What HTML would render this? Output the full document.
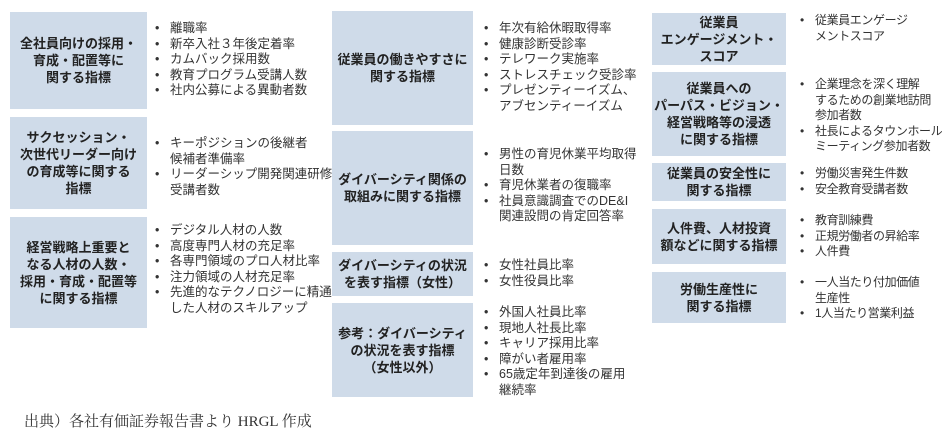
<!DOCTYPE html>
<html><head><meta charset="utf-8"><style>
body{margin:0;width:944px;height:444px;background:#fff;position:relative;overflow:hidden;font-family:"Liberation Sans","Noto Sans CJK JP",sans-serif;}
.b{position:absolute;background:#cfdbe9;display:flex;align-items:center;justify-content:center;text-align:center;font-weight:bold;font-size:13px;line-height:17px;color:#222;}
.l{position:absolute;margin:0;padding:0;list-style:none;font-size:12.5px;line-height:15.6px;color:#333;white-space:nowrap;}
.l li{position:relative;padding-left:15px;}
.l li:before{content:"•";position:absolute;left:0;top:0;}
.s{font-size:12px;letter-spacing:-0.4px;}
.f{position:absolute;left:24px;top:410px;font-family:"Liberation Serif","Noto Serif CJK SC",serif;font-size:15px;color:#333;}
</style></head><body>
<div class="b" style="left:10px;top:12px;width:137px;height:97px">全社員向けの採用・<br>育成・配置等に<br>関する指標</div>
<ul class="l" style="left:155px;top:21px"><li>離職率</li><li>新卒入社３年後定着率</li><li>カムバック採用数</li><li>教育プログラム受講人数</li><li>社内公募による異動者数</li></ul>
<div class="b" style="left:10px;top:117px;width:137px;height:92px">サクセッション・<br>次世代リーダー向け<br>の育成等に関する<br>指標</div>
<ul class="l" style="left:155px;top:136px"><li>キーポジションの後継者<br>候補者準備率</li><li>リーダーシップ開発関連研修<br>受講者数</li></ul>
<div class="b" style="left:10px;top:217px;width:137px;height:111px">経営戦略上重要と<br>なる人材の人数・<br>採用・育成・配置等<br>に関する指標</div>
<ul class="l" style="left:155px;top:223px"><li>デジタル人材の人数</li><li>高度専門人材の充足率</li><li>各専門領域のプロ人材比率</li><li>注力領域の人材充足率</li><li>先進的なテクノロジーに精通<br>した人材のスキルアップ</li></ul>

<div class="b" style="left:332px;top:11px;width:141px;height:114px">従業員の働きやすさに<br>関する指標</div>
<ul class="l" style="left:484px;top:21px"><li>年次有給休暇取得率</li><li>健康診断受診率</li><li>テレワーク実施率</li><li>ストレスチェック受診率</li><li>プレゼンティーイズム、<br>アブセンティーイズム</li></ul>
<div class="b" style="left:332px;top:131px;width:141px;height:114px">ダイバーシティ関係の<br>取組みに関する指標</div>
<ul class="l" style="left:484px;top:147px"><li>男性の育児休業平均取得<br>日数</li><li>育児休業者の復職率</li><li>社員意識調査でのDE&amp;I<br>関連設問の肯定回答率</li></ul>
<div class="b" style="left:332px;top:252px;width:141px;height:44px">ダイバーシティの状況<br>を表す指標（女性）</div>
<ul class="l" style="left:484px;top:258px"><li>女性社員比率</li><li>女性役員比率</li></ul>
<div class="b" style="left:332px;top:303px;width:141px;height:94px">参考：ダイバーシティ<br>の状況を表す指標<br>（女性以外）</div>
<ul class="l" style="left:484px;top:305px"><li>外国人社員比率</li><li>現地人社長比率</li><li>キャリア採用比率</li><li>障がい者雇用率</li><li>65歳定年到達後の雇用<br>継続率</li></ul>

<div class="b" style="left:652px;top:13px;width:134px;height:52px">従業員<br>エンゲージメント・<br>スコア</div>
<ul class="l s" style="left:800px;top:13px"><li>従業員エンゲージ<br>メントスコア</li></ul>
<div class="b" style="left:652px;top:72px;width:134px;height:84px">従業員への<br>パーパス・ビジョン・<br>経営戦略等の浸透<br>に関する指標</div>
<ul class="l s" style="left:800px;top:77px"><li>企業理念を深く理解<br>するための創業地訪問<br>参加者数</li><li>社長によるタウンホール<br>ミーティング参加者数</li></ul>
<div class="b" style="left:652px;top:163px;width:134px;height:38px">従業員の安全性に<br>関する指標</div>
<ul class="l s" style="left:800px;top:166px"><li>労働災害発生件数</li><li>安全教育受講者数</li></ul>
<div class="b" style="left:652px;top:209px;width:134px;height:55px">人件費、人材投資<br>額などに関する指標</div>
<ul class="l s" style="left:800px;top:213px"><li>教育訓練費</li><li>正規労働者の昇給率</li><li>人件費</li></ul>
<div class="b" style="left:652px;top:272px;width:134px;height:51px">労働生産性に<br>関する指標</div>
<ul class="l s" style="left:800px;top:275px"><li>一人当たり付加価値<br>生産性</li><li>1人当たり営業利益</li></ul>

<div class="f">出典）各社有価証券報告書より HRGL 作成</div>
</body></html>
